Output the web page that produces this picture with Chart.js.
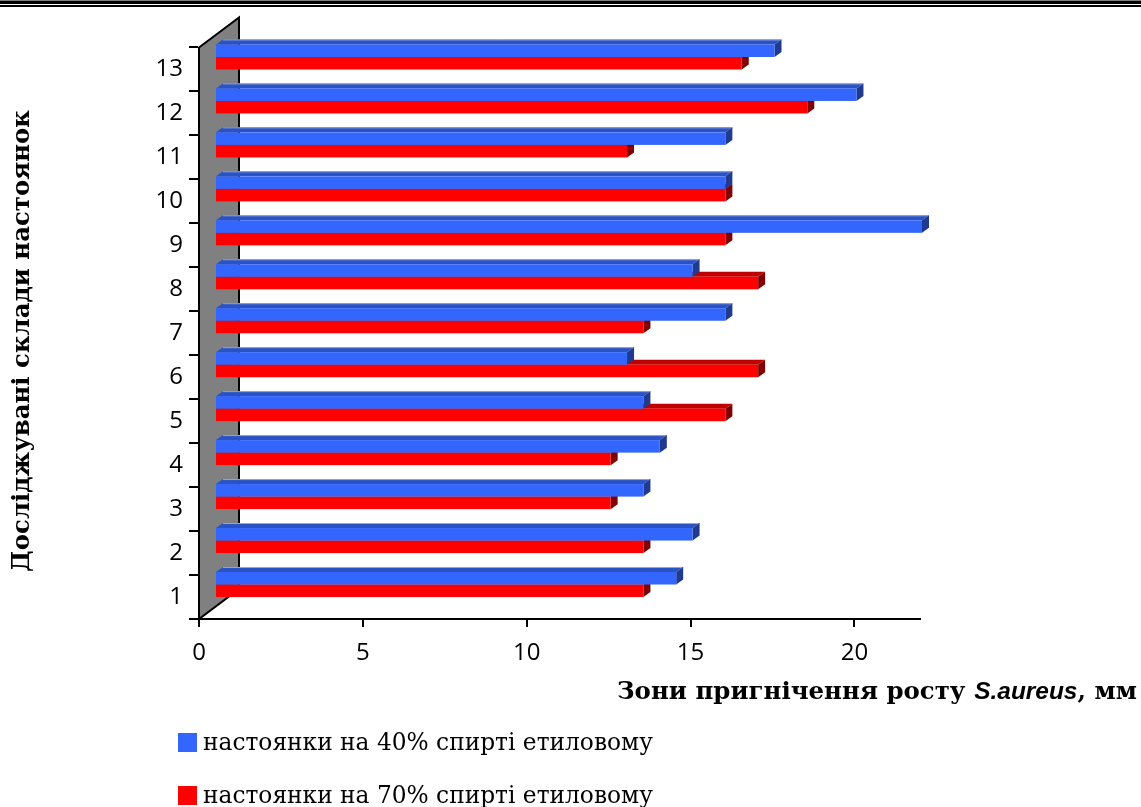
<!DOCTYPE html>
<html>
<head>
<meta charset="utf-8">
<script src="https://cdn.jsdelivr.net/npm/chart.js@4.4.1/dist/chart.umd.min.js"></script>
<style>
  html, body { margin: 0; padding: 0; background: #ffffff; }
  #wrap { width: 1141px; height: 807px; position: relative; }
</style>
</head>
<body>
<div id="wrap"><canvas id="c" width="1141" height="807"></canvas></div>
<script>
// Tincture compositions (1..13) and their S. aureus inhibition zones, mm
const categories = ['1', '2', '3', '4', '5', '6', '7', '8', '9', '10', '11', '12', '13'];
const ethanol40 = [14.5, 15, 13.5, 14, 13.5, 13, 16, 15, 22, 16, 16, 20, 17.5];
const ethanol70 = [13.5, 13.5, 12.5, 12.5, 16, 17, 13.5, 17, 16, 16, 13, 18.5, 16.5];
const xTickValues = [0, 5, 10, 15, 20];
const seriesNames = ['настоянки на 40% спирті етиловому', 'настоянки на 70% спирті етиловому'];
const xTitleParts = ['Зони пригнічення росту ', 'S.aureus', ', мм'];
const yTitleText = 'Досліджувані склади настоянок';

// colours of the three visible faces of each box
const FACES = [
  { front: '#3366FF', top: '#2A52C4', side: '#1F3A8E', edge: '#8FA6E6' },
  { front: '#FF0000', top: '#BF0000', side: '#800000', edge: null }
];

// pseudo-3D geometry (pixels)
const WALL_DX = 40, WALL_DY = 30;      // depth of the back wall
const FRONT_DX = 16, FRONT_DY = -12.5;  // bars sit part-way into the depth
const END_SHIFT = 2;                    // bar end relative to the axis position
const BOX_DX = 7, BOX_DY = 5;           // depth of a single bar

function fontSizeFor(ctx, text, font, target) {
  ctx.font = font.replace('{s}', '100px');
  return 100 * target / ctx.measureText(text).width;
}

function drawBox(ctx, el, f) {
  const x0 = el.base + FRONT_DX;
  const x1 = el.x + END_SHIFT;
  const y0 = el.y - el.height / 2 + FRONT_DY;
  const y1 = el.y + el.height / 2 + FRONT_DY;
  // top face
  ctx.beginPath();
  ctx.moveTo(x0, y0); ctx.lineTo(x1, y0);
  ctx.lineTo(x1 + BOX_DX, y0 - BOX_DY); ctx.lineTo(x0 + BOX_DX, y0 - BOX_DY);
  ctx.closePath();
  ctx.fillStyle = f.top; ctx.fill();
  if (f.edge) {
    ctx.beginPath();
    ctx.moveTo(x0 + BOX_DX, y0 - BOX_DY + 0.5); ctx.lineTo(x1 + BOX_DX, y0 - BOX_DY + 0.5);
    ctx.strokeStyle = f.edge; ctx.lineWidth = 1; ctx.stroke();
  }
  // side face
  ctx.beginPath();
  ctx.moveTo(x1, y0); ctx.lineTo(x1 + BOX_DX, y0 - BOX_DY);
  ctx.lineTo(x1 + BOX_DX, y1 - BOX_DY); ctx.lineTo(x1, y1);
  ctx.closePath();
  ctx.fillStyle = f.side; ctx.fill();
  // front face
  ctx.fillStyle = f.front;
  ctx.fillRect(x0, y0, x1 - x0, y1 - y0);
}

const depthPlugin = {
  id: 'depthPlugin',
  beforeDatasetsDraw(chart) {
    const ctx = chart.ctx, a = chart.chartArea;
    ctx.save();
    // grey back wall
    ctx.beginPath();
    ctx.moveTo(a.left, a.top);
    ctx.lineTo(a.left + WALL_DX, a.top - WALL_DY);
    ctx.lineTo(a.left + WALL_DX, a.bottom - WALL_DY);
    ctx.lineTo(a.left, a.bottom);
    ctx.closePath();
    ctx.fillStyle = '#808080';
    ctx.fill();
    ctx.strokeStyle = '#000000';
    ctx.lineWidth = 2;
    ctx.stroke();
    // boxes: front series (70%) first, then 40% on top of it
    [1, 0].forEach(di => {
      chart.getDatasetMeta(di).data.forEach(el => drawBox(ctx, el, FACES[di]));
    });
    ctx.restore();
    return false;
  },
  afterDraw(chart) {
    const ctx = chart.ctx;
    ctx.save();
    // double rule along the top edge: heavy line, then a thin one
    ctx.fillStyle = '#000000';
    ctx.fillRect(0, 0.5, chart.width, 3.5);
    ctx.fillRect(0, 5, chart.width, 2);

    // value axis title: serif bold with the species name in bold italic sans
    const serifB = 'bold {s} "DejaVu Serif"';
    const sansBI = 'italic bold {s} "Liberation Sans"';
    const fonts = [serifB, sansBI, serifB];
    let total = 0;
    const w100 = xTitleParts.map((t, i) => {
      ctx.font = fonts[i].replace('{s}', '100px');
      const w = ctx.measureText(t).width; total += w; return w;
    });
    const xs = 100 * 520 / total;
    let x = 617;
    ctx.textBaseline = 'alphabetic';
    ctx.textAlign = 'left';
    xTitleParts.forEach((t, i) => {
      ctx.font = fonts[i].replace('{s}', xs.toFixed(2) + 'px');
      ctx.fillText(t, x, 699);
      x += w100[i] * xs / 100;
    });

    // category axis title, rotated
    const ys = fontSizeFor(ctx, yTitleText, serifB, 462);
    ctx.save();
    ctx.translate(23, 341);
    ctx.rotate(-Math.PI / 2);
    ctx.font = serifB.replace('{s}', ys.toFixed(2) + 'px');
    ctx.textAlign = 'center';
    ctx.textBaseline = 'middle';
    ctx.fillText(yTitleText, 0, 0);
    ctx.restore();

    // legend
    const legFont = 'normal {s} "DejaVu Serif"';
    const ls = fontSizeFor(ctx, seriesNames[0], legFont, 450);
    const rows = [743, 796];
    chart.data.datasets.forEach((ds, i) => {
      ctx.fillStyle = ds.backgroundColor;
      ctx.fillRect(178, rows[i] - 10, 19, 19);
      ctx.fillStyle = '#000000';
      ctx.font = legFont.replace('{s}', ls.toFixed(2) + 'px');
      ctx.textAlign = 'left';
      ctx.textBaseline = 'middle';
      ctx.fillText(ds.label, 203, rows[i] + 1);
    });
    ctx.restore();
  }
};

new Chart(document.getElementById('c'), {
  type: 'bar',
  data: {
    labels: categories,
    datasets: [
      { label: seriesNames[0], data: ethanol40, backgroundColor: FACES[0].front },
      { label: seriesNames[1], data: ethanol70, backgroundColor: FACES[1].front }
    ]
  },
  options: {
    indexAxis: 'y',
    responsive: false,
    animation: false,
    devicePixelRatio: 1,
    categoryPercentage: 0.57,
    barPercentage: 1,
    layout: { padding: { top: 47.5, right: 221, bottom: 0, left: 0 } },
    plugins: { legend: { display: false }, tooltip: { enabled: false } },
    scales: {
      x: {
        type: 'linear',
        position: 'bottom',
        min: 0,
        max: 22,
        afterBuildTicks: s => { s.ticks = xTickValues.map(v => ({ value: v })); },
        afterFit: s => { s.height = 188; },
        grid: { drawOnChartArea: false, drawTicks: true, tickLength: 8, color: '#000000', lineWidth: 2 },
        border: { display: true, color: '#000000', width: 2 },
        ticks: { color: '#000000', font: { family: 'Open Sans', size: 24 }, padding: 12, maxRotation: 0 }
      },
      y: {
        type: 'category',
        reverse: true,
        offset: true,
        afterFit: s => { s.width = 199; },
        grid: { offset: true, drawOnChartArea: false, drawTicks: true, tickLength: 10, color: '#000000', lineWidth: 2 },
        border: { display: true, color: '#000000', width: 2 },
        ticks: { color: '#000000', font: { family: 'Open Sans', size: 24 }, padding: 6 }
      }
    }
  },
  plugins: [depthPlugin]
});
</script>
</body>
</html>
